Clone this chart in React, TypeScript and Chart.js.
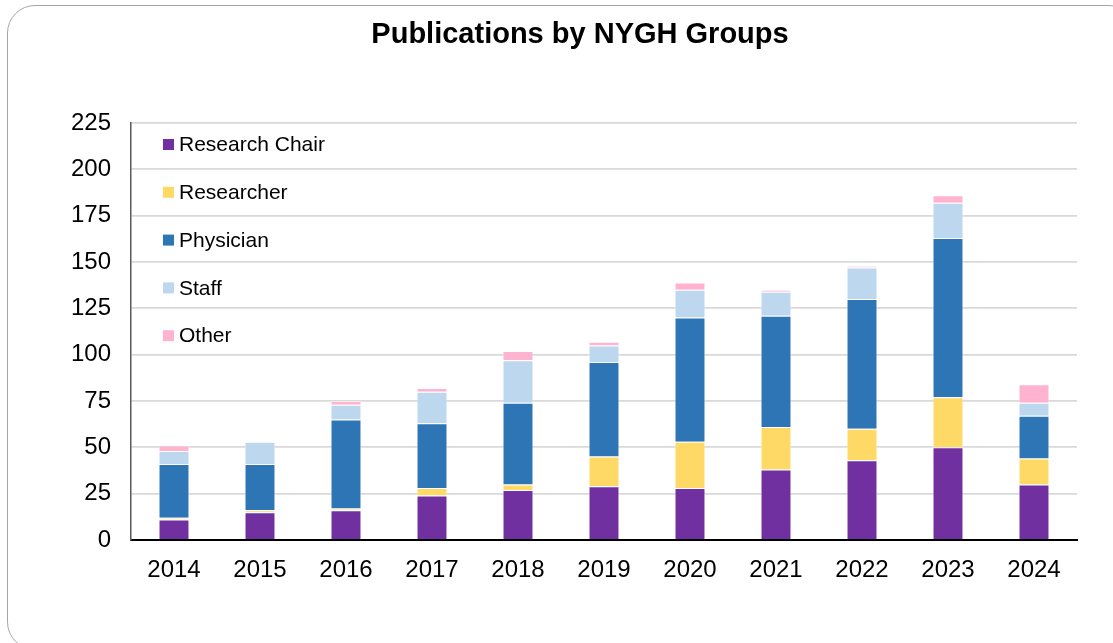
import React, { useEffect, useRef } from "react";
import { Chart, registerables } from "chart.js";

Chart.register(...registerables);

const titleText = "Publications by NYGH Groups";
const years = ["2014", "2015", "2016", "2017", "2018", "2019", "2020", "2021", "2022", "2023", "2024"];
const researchChair = [11, 15, 16, 24, 27, 29, 28, 38, 43, 50, 30];
const researcher = [1, 1, 1, 4, 3, 16, 25, 23, 17, 27, 14];
const physician = [29, 25, 48, 35, 44, 51, 67, 60, 70, 86, 23];
const staff = [7, 12, 8, 17, 23, 9, 15, 13, 17, 19, 7];
const other = [3, 0, 2, 2, 5, 2, 4, 1, 1, 4, 10];
const seriesNames = ["Research Chair", "Researcher", "Physician", "Staff", "Other"];
const seriesColors = ["#7030A0", "#FFD966", "#2E75B6", "#BDD7EE", "#FFB3CF"];
const yTicks = [0, 25, 50, 75, 100, 125, 150, 175, 200, 225];

const FONT = "'Liberation Sans', Arial, sans-serif";

const legendPlugin = {
  id: "insideLegend",
  afterDraw(chart: any) {
    const ctx = chart.ctx;
    const area = chart.chartArea;
    ctx.save();
    ctx.font = `21px ${FONT}`;
    ctx.textBaseline = "middle";
    ctx.textAlign = "left";
    chart.data.datasets.forEach((ds: any, i: number) => {
      const cy = area.top + 21.5 + i * 47.8;
      const x = area.left + 32;
      ctx.fillStyle = ds.backgroundColor;
      ctx.fillRect(x, cy - 5.5, 11, 11);
      ctx.fillStyle = "#000";
      ctx.fillText(ds.label, x + 16, cy + 1);
    });
    ctx.restore();
  },
};

const titlePlugin = {
  id: "offsetTitle",
  afterDraw(chart: any) {
    const ctx = chart.ctx;
    ctx.save();
    ctx.font = `bold 29px ${FONT}`;
    ctx.textAlign = "center";
    ctx.textBaseline = "alphabetic";
    ctx.fillStyle = "#000";
    ctx.fillText(titleText, 580, 43);
    ctx.restore();
  },
};

export default function App() {
  const canvasRef = useRef<HTMLCanvasElement | null>(null);

  useEffect(() => {
    const canvas = canvasRef.current;
    if (!canvas) return;
    const values = [researchChair, researcher, physician, staff, other];
    const chart = new Chart(canvas, {
      type: "bar",
      data: {
        labels: years,
        datasets: values.map((v, i) => ({
          label: seriesNames[i],
          data: v,
          backgroundColor: seriesColors[i],
          borderColor: "rgba(255,255,255,0.45)",
          borderWidth: 1,
          categoryPercentage: 1,
          barPercentage: 0.36,
        })),
      },
      options: {
        responsive: false,
        animation: false,
        devicePixelRatio: 1,
        layout: { padding: { left: 0, right: 36, top: 123, bottom: 0 } },
        plugins: {
          legend: { display: false },
          tooltip: { enabled: false },
          title: { display: false },
        },
        scales: {
          x: {
            stacked: true,
            grid: { display: false, drawTicks: false },
            border: { display: true, color: "#000", width: 2 },
            ticks: { color: "#000", font: { family: FONT, size: 24 }, padding: 16 },
            afterFit(scale: any) {
              scale.height = 103;
            },
          },
          y: {
            stacked: true,
            min: 0,
            max: 225,
            afterBuildTicks(scale: any) {
              scale.ticks = yTicks.map((v) => ({ value: v }));
            },
            grid: { color: "#D9D9D9", lineWidth: 1.8, drawTicks: false },
            border: { display: true, color: "#595959", width: 1.5 },
            ticks: { color: "#000", font: { family: FONT, size: 24 }, padding: 20 },
            afterFit(scale: any) {
              scale.width = 131;
            },
          },
        },
      },
      plugins: [legendPlugin, titlePlugin],
    } as any);
    return () => chart.destroy();
  }, []);

  return (
    <div style={{ position: "fixed", left: 0, top: 0, width: 1113, height: 643, overflow: "hidden", background: "#fff" }}>
      <div
        style={{
          position: "absolute",
          left: 7,
          top: 5,
          width: 1130,
          height: 645,
          border: "1.5px solid #A6A6A6",
          borderRadius: 28,
          boxSizing: "border-box",
        }}
      />
      <canvas ref={canvasRef} width={1113} height={643} style={{ position: "absolute", left: 0, top: 0, width: 1113, height: 643 }} />
    </div>
  );
}
